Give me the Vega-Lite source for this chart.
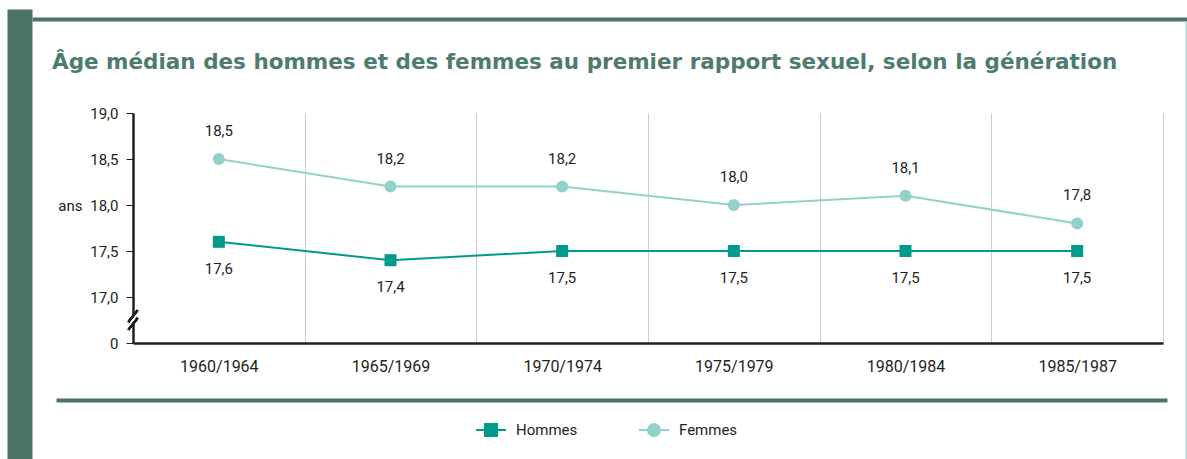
{
  "$schema": "https://vega.github.io/schema/vega-lite/v6.json",
  "autosize": "none",
  "width": 1030,
  "height": 230,
  "padding": {"left": 133, "top": 113, "right": 24, "bottom": 116},
  "background": "#ffffff",
  "title": {
    "text": "Âge médian des hommes et des femmes au premier rapport sexuel, selon la génération",
    "anchor": "start",
    "frame": "group",
    "dx": -81,
    "dy": 81,
    "offset": 10,
    "baseline": "alphabetic",
    "font": "DejaVu Sans",
    "fontSize": 21.5,
    "fontWeight": "bold",
    "color": "#4d7b70"
  },
  "data": {
    "values": [
      {"gen": "1960/1964", "sexe": "Hommes", "age": 17.6},
      {"gen": "1965/1969", "sexe": "Hommes", "age": 17.4},
      {"gen": "1970/1974", "sexe": "Hommes", "age": 17.5},
      {"gen": "1975/1979", "sexe": "Hommes", "age": 17.5},
      {"gen": "1980/1984", "sexe": "Hommes", "age": 17.5},
      {"gen": "1985/1987", "sexe": "Hommes", "age": 17.5},
      {"gen": "1960/1964", "sexe": "Femmes", "age": 18.5},
      {"gen": "1965/1969", "sexe": "Femmes", "age": 18.2},
      {"gen": "1970/1974", "sexe": "Femmes", "age": 18.2},
      {"gen": "1975/1979", "sexe": "Femmes", "age": 18.0},
      {"gen": "1980/1984", "sexe": "Femmes", "age": 18.1},
      {"gen": "1985/1987", "sexe": "Femmes", "age": 17.8}
    ]
  },
  "resolve": {"scale": {"x": "independent", "y": "independent"}, "axis": {"x": "independent", "y": "independent"}},
  "layer": [
    {
      "encoding": {
        "x": {
          "field": "gen", "type": "nominal", "sort": null,
          "scale": {"type": "band", "paddingInner": 0, "paddingOuter": 0},
          "axis": {
            "orient": "bottom", "title": null, "labelAngle": 0, "ticks": false, "tickBand": "extent",
            "grid": true, "gridColor": "#cccccc", "gridWidth": 1,
            "domainColor": "#231f20", "domainWidth": 2.5,
            "labelFont": "Roboto", "labelFontSize": 16, "labelColor": "#231f20", "labelPadding": 15
          }
        },
        "y": {
          "field": "age", "type": "quantitative",
          "scale": {"domain": [16.5, 19], "zero": false, "nice": false},
          "axis": {
            "orient": "left", "values": [16.5, 17, 17.5, 18, 18.5, 19],
            "labelExpr": "datum.value == 16.5 ? '0' : replace(format(datum.value, '.1f'), '.', ',')",
            "grid": false, "tickSize": 7, "tickColor": "#231f20", "tickWidth": 1,
            "domainColor": "#231f20", "domainWidth": 2.5,
            "labelFont": "Roboto", "labelFontSize": 15, "labelColor": "#231f20", "labelPadding": 8,
            "title": "ans", "titleAngle": 0, "titleAlign": "right", "titleBaseline": "middle",
            "titleX": -51, "titleY": 92,
            "titleFont": "Roboto", "titleFontSize": 15, "titleFontWeight": "normal", "titleColor": "#231f20"
          }
        },
        "color": {
          "field": "sexe", "type": "nominal",
          "scale": {"domain": ["Hommes", "Femmes"], "range": ["#009a8b", "#92d1ca"]},
          "legend": {
            "orient": "none", "legendX": 342, "legendY": 301, "direction": "horizontal",
            "title": null, "symbolSize": 900, "symbolStrokeWidth": 2, "columnPadding": 57, "labelOffset": 9,
            "labelFont": "Roboto", "labelFontSize": 15, "labelColor": "#231f20",
            "encode": {
              "symbols": {
                "update": {
                  "shape": {"signal": "datum.value === 'Hommes' ? 'M-1,0H1M-0.4,-0.4H0.4V0.4H-0.4Z' : 'M-1,0H-0.4M0.4,0H1M-0.4,0A0.4,0.4,0,1,0,0.4,0A0.4,0.4,0,1,0,-0.4,0Z'"},
                  "fill": {"signal": "scale('color', datum.value)"},
                  "stroke": {"signal": "scale('color', datum.value)"},
                  "strokeWidth": {"value": 2},
                  "opacity": {"value": 1}
                }
              }
            }
          }
        }
      },
      "layer": [
        {"mark": {"type": "line", "strokeWidth": 2}},
        {"transform": [{"filter": "datum.sexe === 'Hommes'"}], "mark": {"type": "point", "shape": "square", "filled": true, "size": 144, "opacity": 1}},
        {"transform": [{"filter": "datum.sexe === 'Femmes'"}], "mark": {"type": "point", "shape": "circle", "filled": true, "size": 144, "opacity": 1}},
        {
          "transform": [{"filter": "datum.sexe === 'Femmes'"}],
          "mark": {"type": "text", "dy": -28, "font": "Roboto", "fontSize": 15},
          "encoding": {"text": {"field": "age", "type": "quantitative", "format": ".1f"}, "color": {"value": "#231f20"}}
        },
        {
          "transform": [{"filter": "datum.sexe === 'Hommes'"}],
          "mark": {"type": "text", "dy": 27, "font": "Roboto", "fontSize": 15},
          "encoding": {"text": {"field": "age", "type": "quantitative", "format": ".1f"}, "color": {"value": "#231f20"}}
        },
        {
          "mark": {"type": "point", "shape": "M-0.35,0.15L0.35,-0.75L0.35,-0.15L-0.35,0.75Z", "filled": true, "size": 676, "opacity": 1, "strokeWidth": 0},
          "encoding": {
            "x": {"datum": "1960/1964", "type": "nominal", "bandPosition": 0},
            "y": {"datum": 16.75, "type": "quantitative"},
            "color": {"value": "#ffffff"}
          }
        },
        {
          "mark": {"type": "point", "shape": "M-0.35,0.15L0.35,-0.75M-0.35,0.75L0.35,-0.15", "filled": false, "size": 676, "opacity": 1, "strokeWidth": 2},
          "encoding": {
            "x": {"datum": "1960/1964", "type": "nominal", "bandPosition": 0},
            "y": {"datum": 16.75, "type": "quantitative"},
            "color": {"value": "#231f20"}
          }
        }
      ]
    },
    {
      "mark": {"type": "point", "opacity": 0},
      "encoding": {
        "x": {
          "datum": 0, "type": "quantitative",
          "scale": {"domain": [0, 1], "range": [-77, 1034], "nice": false, "zero": false},
          "axis": {"orient": "bottom", "offset": 57, "domainColor": "#4a7468", "domainWidth": 4, "labels": false, "ticks": false, "grid": false, "title": null}
        }
      }
    },
    {
      "mark": {"type": "point", "opacity": 0},
      "encoding": {
        "x": {
          "datum": 0, "type": "quantitative",
          "scale": {"domain": [0, 1], "range": [-101, 1054], "nice": false, "zero": false},
          "axis": {"orient": "top", "offset": 94, "domainColor": "#4a7468", "domainWidth": 4, "labels": false, "ticks": false, "grid": false, "title": null}
        }
      }
    },
    {
      "mark": {"type": "point", "opacity": 0},
      "encoding": {
        "y": {
          "datum": 0, "type": "quantitative",
          "scale": {"domain": [0, 1], "range": [350, -104], "nice": false, "zero": false},
          "axis": {"orient": "left", "offset": 113.5, "domainColor": "#4a7468", "domainWidth": 25, "labels": false, "ticks": false, "grid": false, "title": null}
        }
      }
    },
    {
      "mark": {"type": "point", "opacity": 0},
      "encoding": {
        "y": {
          "datum": 0, "type": "quantitative",
          "scale": {"domain": [0, 1], "range": [350, -92], "nice": false, "zero": false},
          "axis": {"orient": "right", "offset": 23, "domainColor": "#b7cfca", "domainWidth": 1.5, "labels": false, "ticks": false, "grid": false, "title": null}
        }
      }
    }
  ],
  "config": {
    "view": {"stroke": null},
    "locale": {
      "number": {"decimal": ",", "thousands": " ", "grouping": [3], "currency": ["", " €"]}
    }
  }
}
